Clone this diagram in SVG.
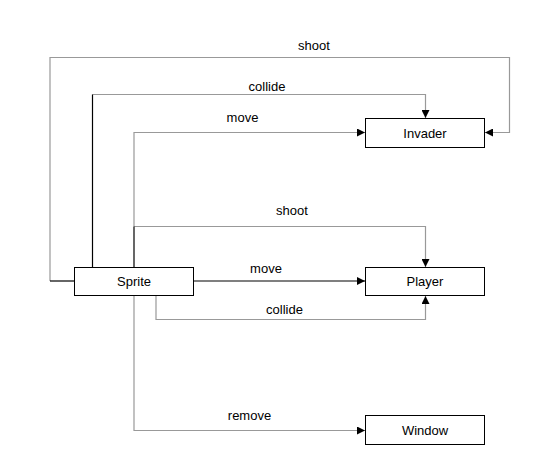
<svg xmlns="http://www.w3.org/2000/svg" width="549" height="469" viewBox="0 0 549 469">
<style>
.box{fill:#fff;stroke:#000;stroke-width:1}
.t{font-family:"Liberation Sans",Arial,sans-serif;font-size:13px;fill:#000;text-anchor:middle}
.g{fill:none;stroke:#999;stroke-width:1.2}
.k{fill:none;stroke:#000;stroke-width:1.2}
</style>
<defs>
<marker id="ah" viewBox="0 0 10 10" refX="10" refY="5" markerWidth="8" markerHeight="8" markerUnits="userSpaceOnUse" orient="auto">
<path d="M0,0 L10,5 L0,10 Z" fill="#000"/>
</marker>
</defs>
<rect width="549" height="469" fill="#fff"/>
<g id="connectors">
<path class="g" d="M50,281 V57.5 H509.5 V132.5 H485" marker-end="url(#ah)"/>
<path class="k" d="M74,281 H50"/>
<path class="g" d="M92.5,94.5 H425.5 V118" marker-end="url(#ah)"/>
<path class="k" d="M92.5,267 V94.5"/>
<path class="g" d="M134,226.5 V132.5 H365" marker-end="url(#ah)"/>
<path class="g" d="M134,226.5 H425.5 V267" marker-end="url(#ah)"/>
<path class="k" d="M134,267 V226.5"/>
<path class="k" d="M193,281 H365" marker-end="url(#ah)"/>
<path class="g" d="M156,295 V319.5 H425.5 V296" marker-end="url(#ah)"/>
<path class="g" d="M134,295 V430.5 H365" marker-end="url(#ah)"/>
<text class="t" x="314" y="50">shoot</text>
<text class="t" x="267" y="91">collide</text>
<text class="t" x="242.5" y="122">move</text>
<text class="t" x="292" y="215">shoot</text>
<text class="t" x="266" y="273">move</text>
<text class="t" x="284.5" y="314">collide</text>
<text class="t" x="249.5" y="420">remove</text>
</g>
<g id="Sprite">
<rect class="box" x="74.5" y="267.5" width="119" height="28"/>
<text class="t" x="134" y="286">Sprite</text>
</g>
<g id="Invader">
<rect class="box" x="365.5" y="118.5" width="119" height="29"/>
<text class="t" x="425" y="137.5">Invader</text>
</g>
<g id="Player">
<rect class="box" x="365.5" y="267.5" width="119" height="28"/>
<text class="t" x="425" y="286">Player</text>
</g>
<g id="Window">
<rect class="box" x="365.5" y="415.5" width="119" height="29"/>
<text class="t" x="425" y="434.5">Window</text>
</g>
</svg>
